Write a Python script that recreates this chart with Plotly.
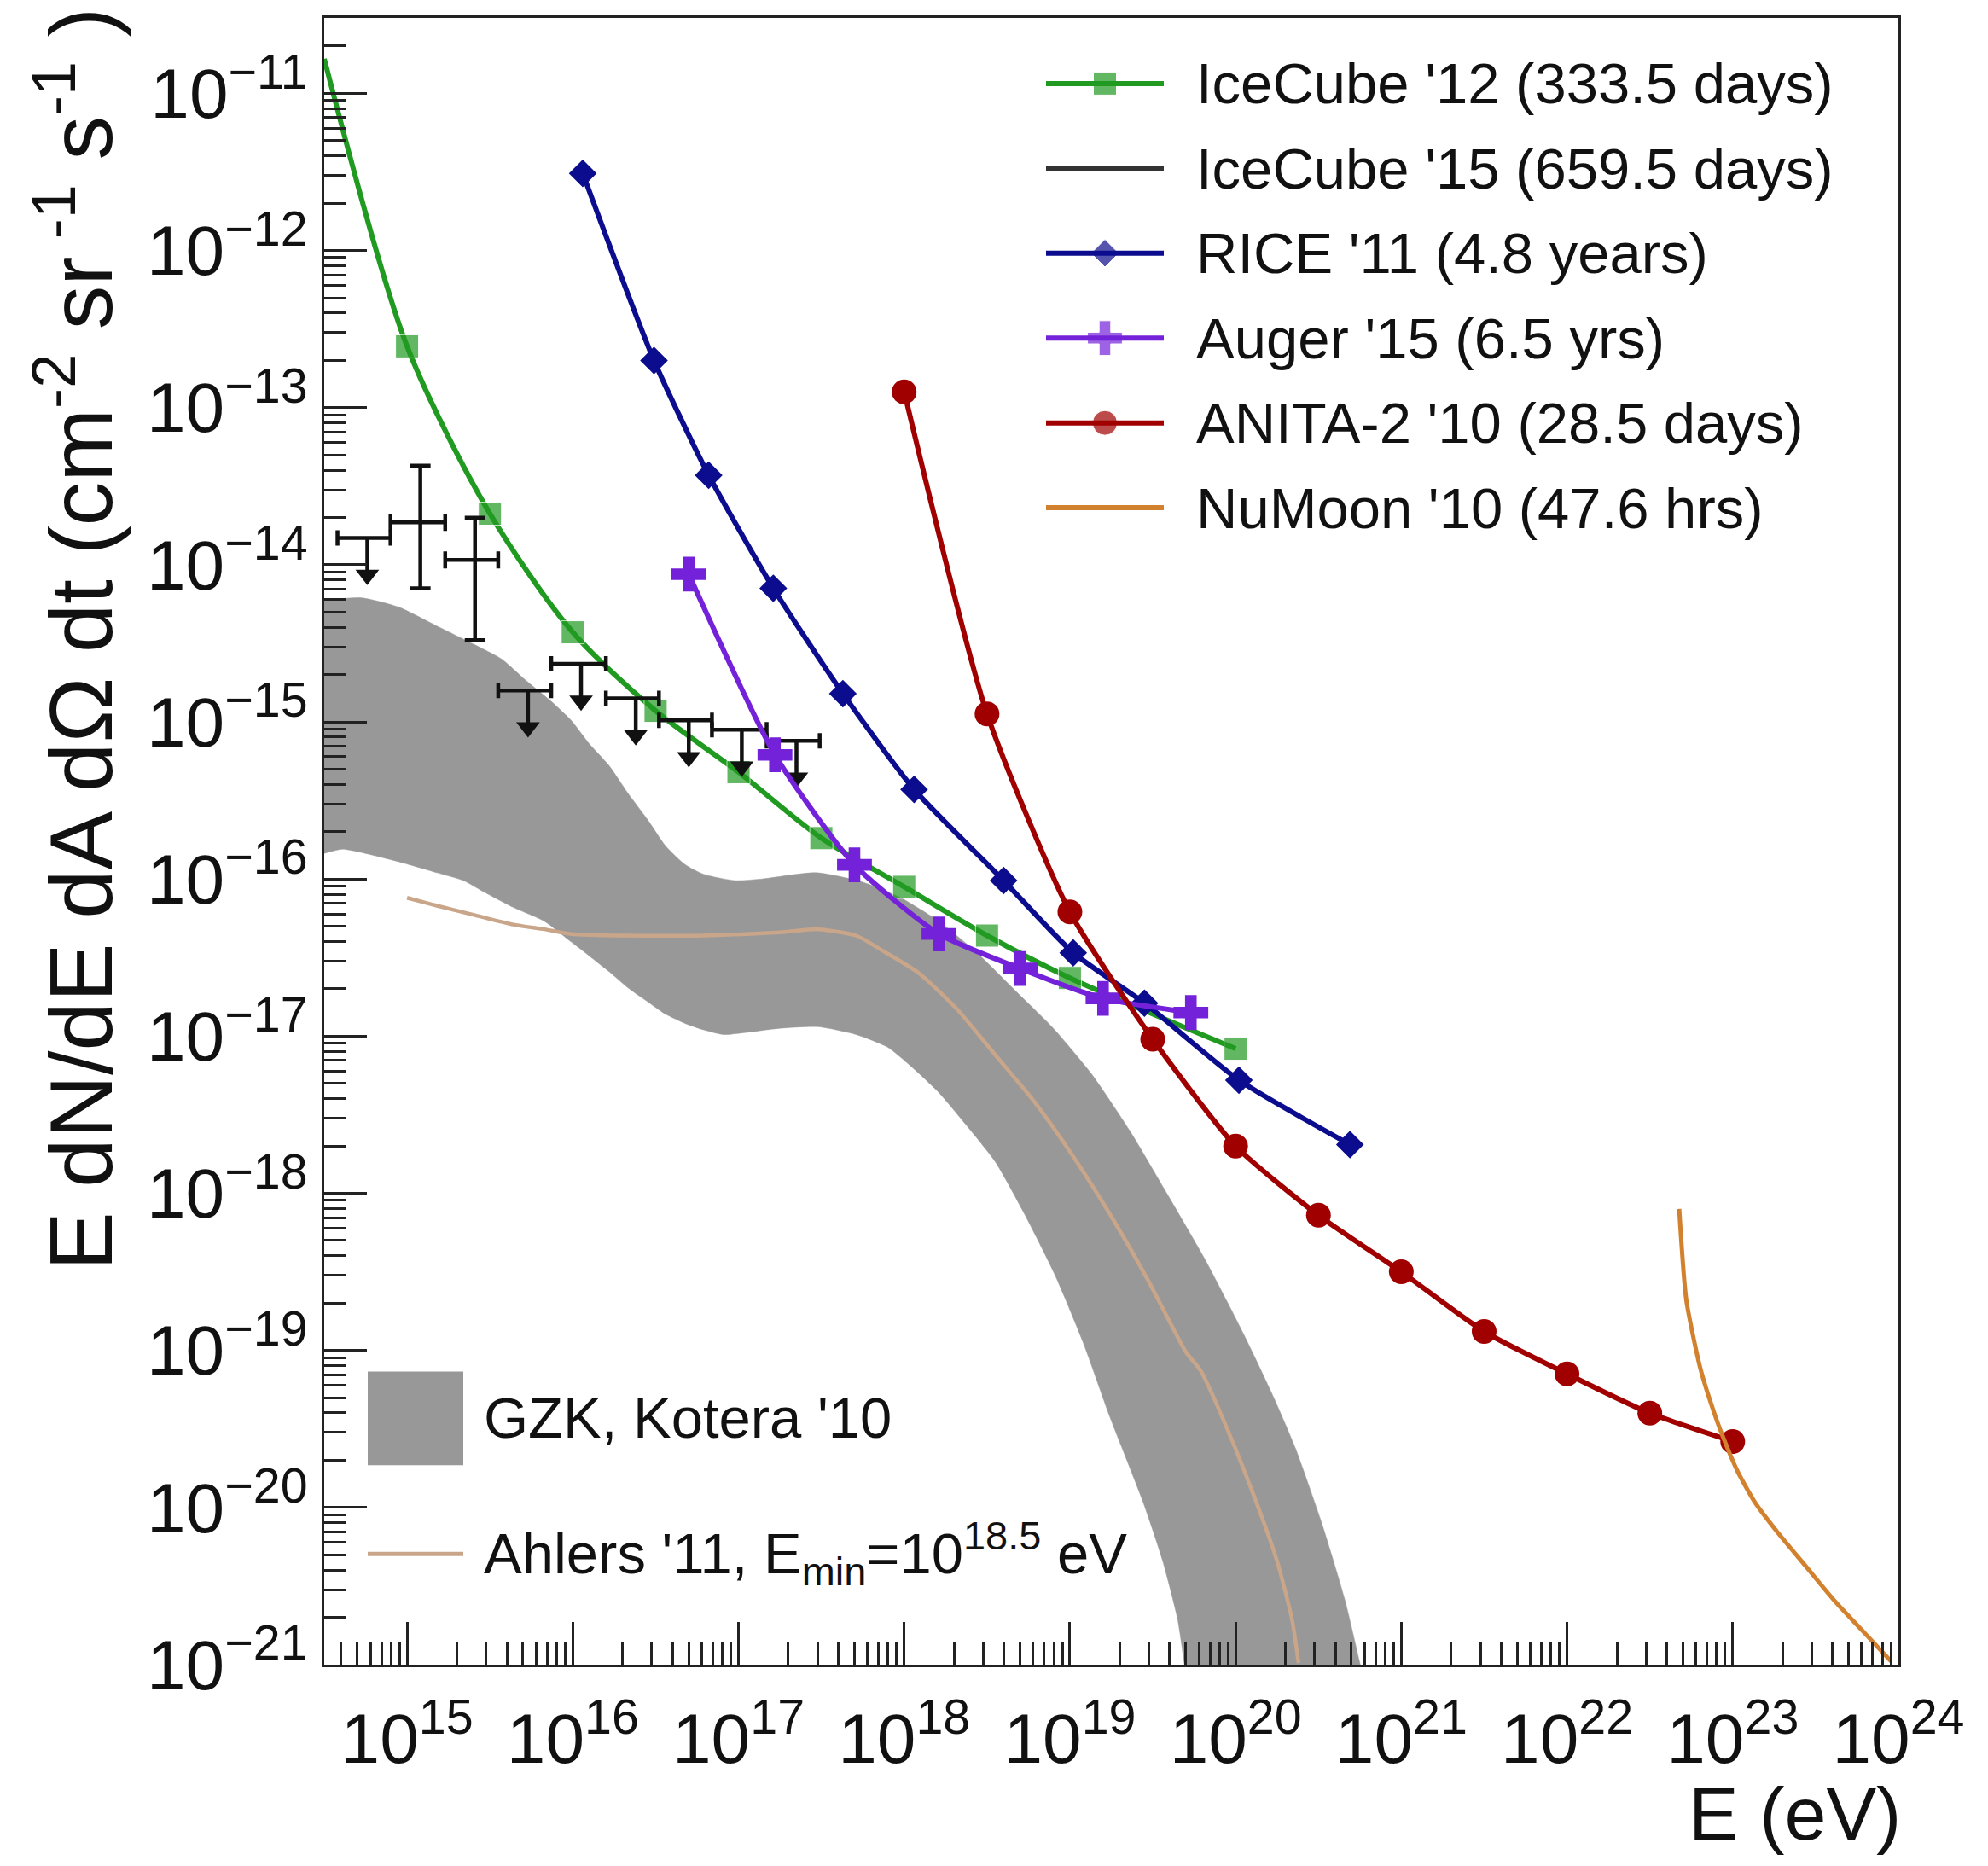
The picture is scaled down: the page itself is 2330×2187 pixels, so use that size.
import numpy as np
import plotly.graph_objects as go

# ---------------- data (log10 E [eV], log10 flux) ----------------
ic12_logE = [14.50, 15.0, 15.5, 16.0, 16.5, 17.0, 17.5, 18.0, 18.5, 19.0, 20.0]
ic12_logF = [-10.78, -12.61, -13.675, -14.43, -14.93, -15.32, -15.74, -16.05, -16.36, -16.63, -17.08]
ic12_has_marker = [False, True, True, True, True, True, True, True, True, True, True]

rice_logE = [16.06, 16.49, 16.82, 17.21, 17.63, 18.06, 18.60, 19.02, 19.45, 20.02, 20.69]
rice_logF = [-11.51, -12.70, -13.43, -14.15, -14.82, -15.43, -16.01, -16.47, -16.79, -17.28, -17.69]

auger_logE = [16.70, 17.22, 17.70, 18.21, 18.70, 19.20, 19.73]
auger_logF = [-14.06, -15.21, -15.91, -16.35, -16.57, -16.76, -16.85]

anita_logE = [18.0, 18.5, 19.0, 19.5, 20.0, 20.5, 21.0, 21.5, 22.0, 22.5, 23.0]
anita_logF = [-12.90, -14.95, -16.21, -17.02, -17.70, -18.14, -18.50, -18.88, -19.15, -19.40, -19.58]

numoon_logE = [22.677, 22.72, 22.805, 22.891, 22.96, 23.029, 23.132, 23.269, 23.441, 23.613, 23.785, 23.956]
numoon_logF = [-18.10, -18.68, -19.115, -19.406, -19.60, -19.769, -19.963, -20.156, -20.374, -20.592, -20.786, -20.979]

# IceCube '15: bins (log10 E), values; error or upper limit
ic15_lo = [14.58, 14.90, 15.23, 15.55, 15.87, 16.20, 16.52, 16.84, 17.17]
ic15_hi = [14.90, 15.23, 15.55, 15.87, 16.20, 16.52, 16.84, 17.17, 17.49]
ic15_logE = [14.76, 15.08, 15.41, 15.73, 16.05, 16.38, 16.70, 17.02, 17.35]
ic15_logF = [-13.83, -13.73, -13.97, -14.80, -14.63, -14.85, -14.99, -15.05, -15.12]
ic15_is_limit = [True, False, False, True, True, True, True, True, True]
ic15_err_up_logF = [None, -13.37, -13.70, None, None, None, None, None, None]
ic15_err_dn_logF = [None, -14.15, -14.48, None, None, None, None, None, None]

# GZK band (Kotera '10)
gzk_upper_logE = [14.49, 14.72, 14.95, 15.18, 15.41, 15.57, 15.71, 15.87, 15.99, 16.10, 16.22, 16.33,
                  16.45, 16.56, 16.68, 16.79, 16.98, 17.14, 17.47, 17.75, 17.98, 18.21, 18.44, 18.67,
                  18.90, 19.13, 19.36, 19.59, 19.82, 20.05, 20.23, 20.36, 20.52, 20.66, 20.75, 20.84]
gzk_upper_logF = [-14.23, -14.21, -14.27, -14.39, -14.51, -14.60, -14.73, -14.87, -14.99, -15.14, -15.28, -15.45,
                  -15.62, -15.79, -15.91, -15.97, -16.01, -16.00, -15.96, -16.02, -16.12, -16.27, -16.47, -16.71,
                  -16.95, -17.24, -17.60, -18.01, -18.43, -18.90, -19.30, -19.62, -20.10, -20.59, -20.99, -21.40]
gzk_lower_logE = [14.49, 14.61, 14.72, 14.95, 15.18, 15.34, 15.46, 15.64, 15.83, 15.99, 16.10, 16.22,
                  16.33, 16.45, 16.56, 16.68, 16.79, 16.91, 17.02, 17.25, 17.48, 17.71, 17.90, 18.05,
                  18.21, 18.37, 18.55, 18.72, 18.91, 19.08, 19.24, 19.44, 19.56, 19.65, 19.69, 19.73]
gzk_lower_logF = [-15.84, -15.81, -15.83, -15.89, -15.96, -16.01, -16.08, -16.18, -16.27, -16.40, -16.49, -16.59,
                  -16.69, -16.78, -16.86, -16.92, -16.96, -16.99, -16.98, -16.95, -16.94, -16.99, -17.07, -17.20,
                  -17.36, -17.56, -17.80, -18.12, -18.52, -18.95, -19.42, -19.96, -20.34, -20.71, -20.99, -21.30]

# Ahlers '11
ahlers_logE = [15.0, 15.18, 15.41, 15.64, 15.83, 15.99, 16.33, 16.79, 17.25, 17.48, 17.71, 17.86, 18.09,
               18.32, 18.55, 18.78, 19.01, 19.24, 19.47, 19.70, 19.79, 19.95, 20.13, 20.25, 20.34, 20.38]
ahlers_logF = [-16.12, -16.17, -16.23, -16.29, -16.32, -16.35, -16.36, -16.36, -16.34, -16.32, -16.36, -16.45, -16.60,
               -16.83, -17.12, -17.41, -17.75, -18.13, -18.55, -19.01, -19.13, -19.50, -19.98, -20.34, -20.71, -20.99]

# axis ticks
x_tick_exp = [15, 16, 17, 18, 19, 20, 21, 22, 23, 24]
y_tick_exp = [-21, -20, -19, -18, -17, -16, -15, -14, -13, -12, -11]
x_tick_labels = ["10<sup>%d</sup>" % e for e in x_tick_exp]
y_tick_labels = ["10<sup>\u2212%d</sup>" % (-e) for e in y_tick_exp]

# legends
legend_labels = ["IceCube '12 (333.5 days)", "IceCube '15 (659.5 days)", "RICE '11 (4.8 years)",
                 "Auger '15 (6.5 yrs)", "ANITA-2 '10 (28.5 days)", "NuMoon '10 (47.6 hrs)"]
legend2_labels = ["GZK, Kotera '10", "Ahlers '11, E<sub>min</sub>=10<sup>18.5</sup> eV"]

# ---------------- styles ----------------
FONT = "Liberation Sans, Arial, Helvetica, sans-serif"
C_GREEN = "#219a21"
C_GRAY15 = "#333333"
C_NAVY = "#0c0c8e"
C_PURPLE = "#7422d9"
C_RED = "#a00000"
C_ORANGE = "#d2822f"
C_BAND = "#989898"
C_AHLERS = "#c9a68a"
C_BLACK = "#111111"
SZ_SQ, SZ_DIA, SZ_CROSS, SZ_CIRC = 27, 25, 34, 29
legend_colors = [C_GREEN, C_GRAY15, C_NAVY, C_PURPLE, C_RED, C_ORANGE]
legend_symbols = ["square", None, "diamond", "cross", "circle", None]
legend_sizes = [SZ_SQ, 0, SZ_DIA, SZ_CROSS, SZ_CIRC, 0]

# page has an 8px body margin, so the figure is shrunk by 16px and margins shifted by 8px
BODY = 8
W, H = 2330 - 2 * BODY, 2187 - 2 * BODY
PLOT_L, PLOT_R, PLOT_T, PLOT_B = 380, 2225, 18, 1951   # screen pixels of the frame
ML, MT = PLOT_L - BODY, PLOT_T - BODY
MR, MB = W - (PLOT_R - BODY), H - (PLOT_B - BODY)
PW, PH = PLOT_R - PLOT_L, PLOT_B - PLOT_T


def px_x(px):
    return (px - PLOT_L) / PW


def px_y(py):
    return (PLOT_B - py) / PH


def p10(a):
    return [None if v is None else 10.0 ** v for v in a]


LW = 6
fig = go.Figure()

# GZK band
band_x = p10(gzk_upper_logE) + p10(gzk_lower_logE[::-1])
band_y = p10(gzk_upper_logF) + p10(gzk_lower_logF[::-1])
fig.add_trace(go.Scatter(x=band_x, y=band_y, mode="lines", fill="toself", fillcolor=C_BAND,
                         line=dict(color=C_BAND, width=0.5, shape="spline", smoothing=0.6),
                         showlegend=False, hoverinfo="skip"))
# Ahlers
fig.add_trace(go.Scatter(x=p10(ahlers_logE), y=p10(ahlers_logF), mode="lines",
                         line=dict(color=C_AHLERS, width=4.5, shape="spline", smoothing=0.6),
                         showlegend=False))
# IceCube '12
fig.add_trace(go.Scatter(x=p10(ic12_logE), y=p10(ic12_logF), mode="lines+markers",
                         line=dict(color=C_GREEN, width=LW, shape="spline", smoothing=0.8),
                         marker=dict(symbol="square", size=[SZ_SQ if m else 0 for m in ic12_has_marker],
                                     color=C_GREEN),
                         showlegend=False))

# IceCube '15 - horizontal bin bars for all points
E = p10(ic15_logE)
F = p10(ic15_logF)
ex_plus = [10 ** h - e for h, e in zip(ic15_hi, E)]
ex_minus = [e - 10 ** l for l, e in zip(ic15_lo, E)]
meas = [i for i, lim in enumerate(ic15_is_limit) if not lim]
lims = [i for i, lim in enumerate(ic15_is_limit) if lim]
fig.add_trace(go.Scatter(
    x=[E[i] for i in meas], y=[F[i] for i in meas], mode="markers",
    marker=dict(size=1, color=C_BLACK),
    error_x=dict(type="data", symmetric=False, array=[ex_plus[i] for i in meas],
                 arrayminus=[ex_minus[i] for i in meas], color=C_BLACK, thickness=4.5, width=10),
    error_y=dict(type="data", symmetric=False,
                 array=[10 ** ic15_err_up_logF[i] - F[i] for i in meas],
                 arrayminus=[F[i] - 10 ** ic15_err_dn_logF[i] for i in meas],
                 color=C_BLACK, thickness=4.5, width=12),
    showlegend=False))
fig.add_trace(go.Scatter(
    x=[E[i] for i in lims], y=[F[i] for i in lims], mode="markers",
    marker=dict(size=1, color=C_BLACK),
    error_x=dict(type="data", symmetric=False, array=[ex_plus[i] for i in lims],
                 arrayminus=[ex_minus[i] for i in lims], color=C_BLACK, thickness=4.5, width=9),
    showlegend=False))
UL_ARROW = 0.30   # arrow length in decades
stem_x, stem_y = [], []
for i in lims:
    stem_x += [E[i], E[i], None]
    stem_y += [F[i], 10 ** (ic15_logF[i] - UL_ARROW + 0.05), None]
fig.add_trace(go.Scatter(x=stem_x, y=stem_y, mode="lines", line=dict(color=C_BLACK, width=4.5),
                         showlegend=False))
fig.add_trace(go.Scatter(x=[E[i] for i in lims],
                         y=[10 ** (ic15_logF[i] - UL_ARROW + 0.065) for i in lims],
                         mode="markers", marker=dict(symbol="triangle-down", size=24, color=C_BLACK),
                         showlegend=False))

# RICE
fig.add_trace(go.Scatter(x=p10(rice_logE), y=p10(rice_logF), mode="lines+markers",
                         line=dict(color=C_NAVY, width=LW, shape="spline", smoothing=0.6),
                         marker=dict(symbol="diamond", size=SZ_DIA, color=C_NAVY), showlegend=False))
# Auger
fig.add_trace(go.Scatter(x=p10(auger_logE), y=p10(auger_logF), mode="lines+markers",
                         line=dict(color=C_PURPLE, width=LW, shape="spline", smoothing=0.6),
                         marker=dict(symbol="cross", size=SZ_CROSS, color=C_PURPLE), showlegend=False))
# ANITA-2
fig.add_trace(go.Scatter(x=p10(anita_logE), y=p10(anita_logF), mode="lines+markers",
                         line=dict(color=C_RED, width=LW, shape="spline", smoothing=0.6),
                         marker=dict(symbol="circle", size=SZ_CIRC, color=C_RED), showlegend=False))
# NuMoon
fig.add_trace(go.Scatter(x=p10(numoon_logE), y=p10(numoon_logF), mode="lines",
                         line=dict(color=C_ORANGE, width=5, shape="spline", smoothing=0.6),
                         showlegend=False))

# ---------------- legends (drawn manually) ----------------
shapes = []
annotations = []
row_y0, row_dy = 95, 99.6
line_x0, line_x1, mark_x, text_x = 1226, 1364, 1295, 1400
LEG_FS = 67
leg_mx, leg_my, leg_sym, leg_col, leg_sz = [], [], [], [], []
for i, lab in enumerate(legend_labels):
    yy = row_y0 + i * row_dy
    shapes.append(dict(type="line", xref="paper", yref="paper", x0=px_x(line_x0), x1=px_x(line_x1),
                       y0=px_y(yy), y1=px_y(yy), line=dict(color=legend_colors[i], width=LW)))
    annotations.append(dict(text=lab, xref="paper", yref="paper", x=px_x(text_x), y=px_y(yy),
                            xanchor="left", yanchor="middle", showarrow=False,
                            font=dict(family=FONT, size=LEG_FS, color=C_BLACK)))
    if legend_symbols[i]:
        leg_mx.append(px_x(mark_x)); leg_my.append(px_y(yy))
        leg_sym.append(legend_symbols[i]); leg_col.append(legend_colors[i]); leg_sz.append(legend_sizes[i])
fig.add_trace(go.Scatter(x=leg_mx, y=leg_my, xaxis="x2", yaxis="y2", mode="markers",
                         marker=dict(symbol=leg_sym, color=leg_col, size=leg_sz), showlegend=False,
                         hoverinfo="skip"))

# lower-left legend
shapes.append(dict(type="rect", xref="paper", yref="paper", x0=px_x(431), x1=px_x(543),
                   y0=px_y(1717), y1=px_y(1607), fillcolor=C_BAND, line=dict(width=0)))
shapes.append(dict(type="line", xref="paper", yref="paper", x0=px_x(431), x1=px_x(543),
                   y0=px_y(1821), y1=px_y(1821), line=dict(color=C_AHLERS, width=5)))
for lab, yy in zip(legend2_labels, [1661, 1821]):
    annotations.append(dict(text=lab, xref="paper", yref="paper", x=px_x(565), y=px_y(yy),
                            xanchor="left", yanchor="middle", showarrow=False,
                            font=dict(family=FONT, size=LEG_FS, color=C_BLACK)))

# axis titles
annotations.append(dict(text="E dN/dE dA d\u03a9 dt (cm<sup>-2</sup> sr<sup> -1</sup> s<sup>-1</sup> )",
                        xref="paper", yref="paper", x=px_x(88), y=px_y(4), xanchor="center",
                        yanchor="top", textangle=-90, showarrow=False,
                        font=dict(family=FONT, size=103, color=C_BLACK)))
annotations.append(dict(text="E (eV)", xref="paper", yref="paper", x=px_x(2230), y=px_y(2126),
                        xanchor="right", yanchor="middle", showarrow=False,
                        font=dict(family=FONT, size=88, color=C_BLACK)))

# minor ticks
x_minor = [m * 10.0 ** n for n in range(14, 24) for m in range(2, 10)
           if 14.5 <= np.log10(m * 10.0 ** n) <= 24]
y_minor = [m * 10.0 ** n for n in range(-22, -10) for m in range(2, 10)
           if -21 <= np.log10(m * 10.0 ** n) <= -10.52]

AX_COL = "#222222"
common = dict(type="log", showgrid=False, zeroline=False, showline=True, mirror=True,
              linecolor=AX_COL, linewidth=3, ticks="inside", tickwidth=3, tickcolor=AX_COL,
              tickfont=dict(family=FONT, size=82, color=C_BLACK), tickmode="array")
fig.update_layout(
    width=W, height=H, margin=dict(l=ML, r=MR, t=MT, b=MB, pad=0),
    paper_bgcolor="white", plot_bgcolor="white", showlegend=False,
    xaxis=dict(range=[14.5, 24], tickvals=[10.0 ** e for e in x_tick_exp], ticktext=x_tick_labels,
               ticklen=50, ticklabelstandoff=14,
               minor=dict(tickmode="array", tickvals=x_minor, ticks="inside", ticklen=26,
                          tickwidth=3, tickcolor=AX_COL), **common),
    yaxis=dict(range=[-21, -10.52], tickvals=[10.0 ** e for e in y_tick_exp], ticktext=y_tick_labels,
               ticklen=50, minor=dict(tickmode="array", tickvals=y_minor, ticks="inside", ticklen=26,
                                      tickwidth=3, tickcolor=AX_COL), **common),
    xaxis2=dict(overlaying="x", range=[0, 1], visible=False, fixedrange=True),
    yaxis2=dict(overlaying="y", range=[0, 1], visible=False, fixedrange=True),
    shapes=shapes, annotations=annotations,
)

fig.write_html("out.html")
